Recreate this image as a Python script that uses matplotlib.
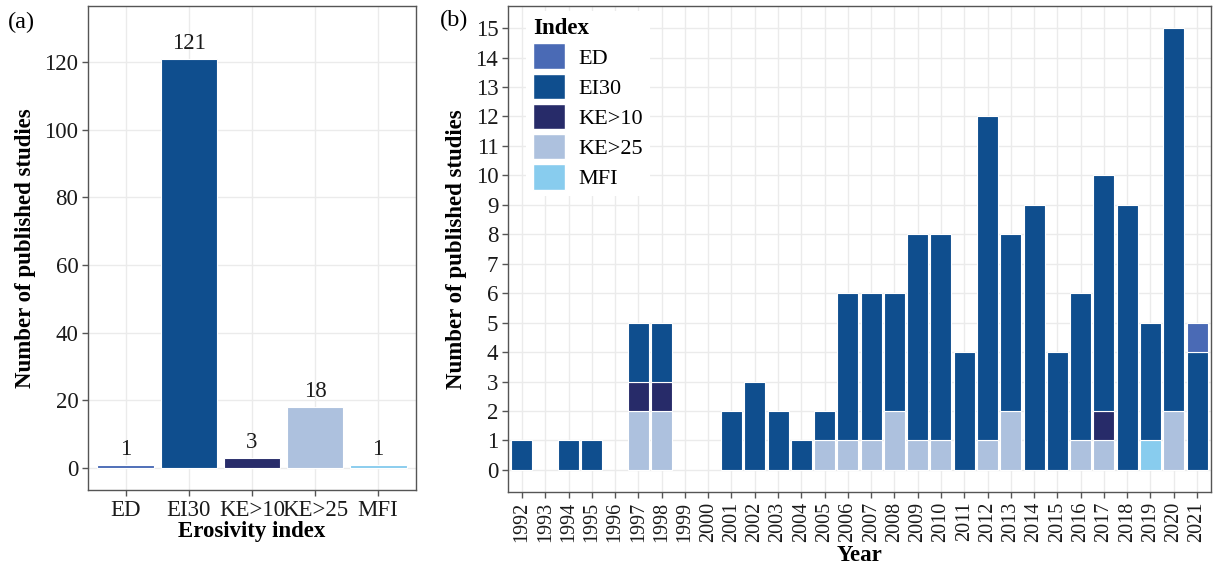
import numpy as np
import matplotlib.pyplot as plt
from matplotlib.patches import Patch

plt.rcParams['font.family'] = ['Liberation Serif', 'DejaVu Serif']

# panel (a): totals per erosivity index
indices = ['ED', 'EI30', 'KE>10', 'KE>25', 'MFI']
totals = [1, 121, 3, 18, 1]
colors = {'ED': '#4a6ab5', 'EI30': '#0f4e8e', 'KE>10': '#272b69',
          'KE>25': '#adc1de', 'MFI': '#88ccee'}

# panel (b): studies per year, split by index
years = list(range(1992, 2022))
ed = [0, 0, 0, 0, 0, 0, 0, 0, 0, 0, 0, 0, 0, 0, 0, 0, 0, 0, 0, 0,
      0, 0, 0, 0, 0, 0, 0, 0, 0, 1]
ei30 = [1, 0, 1, 1, 0, 2, 2, 0, 0, 2, 3, 2, 1, 1, 5, 5, 4, 7, 7, 4,
        11, 6, 9, 4, 5, 8, 9, 4, 13, 4]
ke10 = [0, 0, 0, 0, 0, 1, 1, 0, 0, 0, 0, 0, 0, 0, 0, 0, 0, 0, 0, 0,
        0, 0, 0, 0, 0, 1, 0, 0, 0, 0]
ke25 = [0, 0, 0, 0, 0, 2, 2, 0, 0, 0, 0, 0, 0, 1, 1, 1, 2, 1, 1, 0,
        1, 2, 0, 0, 1, 1, 0, 0, 2, 0]
mfi = [0, 0, 0, 0, 0, 0, 0, 0, 0, 0, 0, 0, 0, 0, 0, 0, 0, 0, 0, 0,
       0, 0, 0, 0, 0, 0, 0, 1, 0, 0]

W, H = 1214, 570
fig = plt.figure(figsize=(W / 100, H / 100), dpi=100)

def px_axes(x0, y0, x1, y1):
    return fig.add_axes([x0 / W, 1 - y1 / H, (x1 - x0) / W, (y1 - y0) / H])

def style(ax):
    ax.set_facecolor('white')
    ax.grid(True, color='#ebebeb', lw=1.0)
    ax.set_axisbelow(True)
    for s in ax.spines.values():
        s.set_color('#555555')
        s.set_linewidth(1.0)
    ax.tick_params(length=4, width=1, color='#555555', labelsize=16.5,
                   labelcolor='#1a1a1a', pad=3)

# ---- panel (a)
ax1 = px_axes(88, 6, 416, 490)
style(ax1)
x = np.arange(len(indices))
ax1.bar(x, totals, width=0.9, color=[colors[k] for k in indices],
        edgecolor='white', linewidth=0.8)
for xi, v in zip(x, totals):
    ax1.text(xi, v + 1.5, str(v), ha='center', va='bottom', fontsize=16.5,
             color='#1a1a1a')
ax1.set_xlim(-0.6, 4.6)
ax1.set_ylim(-6.5, 136.6)
ax1.set_yticks([0, 20, 40, 60, 80, 100, 120])
ax1.set_xticks(x)
ax1.set_xticklabels(indices)
ax1.set_xlabel('Erosivity index', fontsize=16.5, fontweight='bold', labelpad=0)
ax1.set_ylabel('Number of published studies', fontsize=16.5,
               fontweight='bold', labelpad=6)
fig.text(8 / W, 1 - 22 / H, '(a)', fontsize=17.5, va='center')

# ---- panel (b)
ax2 = px_axes(508, 6, 1211, 492)
style(ax2)
xb = np.arange(len(years))
bottom = np.zeros(len(years))
# stacked from bottom to top: MFI, KE>25, KE>10, EI30, ED
for name, vals in [('MFI', mfi), ('KE>25', ke25), ('KE>10', ke10),
                   ('EI30', ei30), ('ED', ed)]:
    vals = np.array(vals)
    mask = vals > 0
    ax2.bar(xb[mask], vals[mask], bottom=bottom[mask], width=0.9,
            color=colors[name], edgecolor='white', linewidth=0.8)
    bottom += vals
ax2.set_xlim(-0.6, len(years) - 0.4)
ax2.set_ylim(-0.75, 15.75)
ax2.set_yticks(range(0, 16))
ax2.set_xticks(xb)
ax2.set_xticklabels([str(y) for y in years], rotation=90)
ax2.tick_params(axis='x', labelsize=14.5)
ax2.set_xlabel('Year', fontsize=16.5, fontweight='bold', labelpad=2)
ax2.set_ylabel('Number of published studies', fontsize=16.5,
               fontweight='bold', labelpad=6)
fig.text(440 / W, 1 - 20 / H, '(b)', fontsize=17.5, va='center')

handles = [Patch(facecolor=colors[k], edgecolor='white', label=k)
           for k in indices]
leg = ax2.legend(handles=handles, title='Index', loc='upper left',
                 bbox_to_anchor=(0.01, 1.012), frameon=True, fontsize=16,
                 title_fontproperties={'weight': 'bold', 'size': 16.5},
                 handlelength=1.45, handleheight=1.4, labelspacing=0.2,
                 handletextpad=0.6, borderpad=0.3)
leg.get_frame().set_facecolor('white')
leg.get_frame().set_edgecolor('none')
leg.get_frame().set_alpha(1.0)
leg._legend_box.align = 'left'

fig.savefig('out.png', dpi=100, facecolor='white')
